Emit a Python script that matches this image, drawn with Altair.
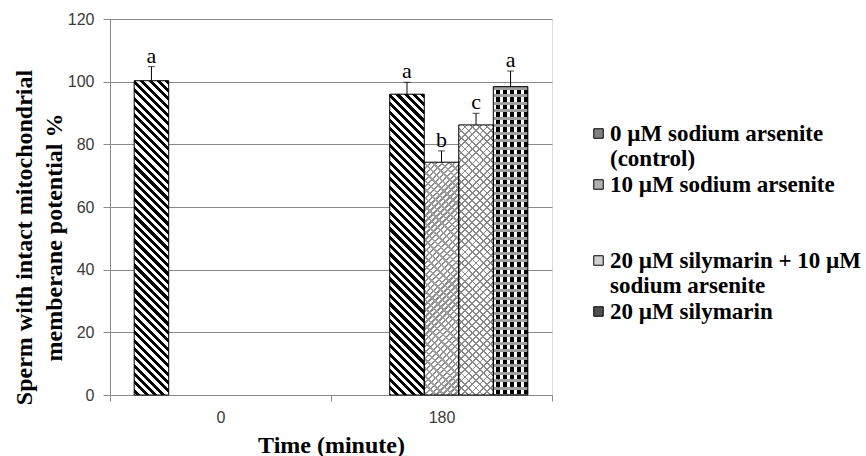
import math
import json
import altair as alt
import pandas as pd

# ---------------- data ----------------
times = ["0", "180"]
series = [
    "0 µM sodium arsenite (control)",
    "10 µM sodium arsenite",
    "20 µM silymarin + 10 µM sodium arsenite",
    "20 µM silymarin",
]
legend_lines = [
    ["0 µM sodium arsenite", "(control)"],
    ["10 µM sodium arsenite", "", ""],
    ["20 µM silymarin + 10 µM", "sodium arsenite"],
    ["20 µM silymarin"],
]
means_t0 = [100.3, None, None, None]
means_t180 = [96.0, 74.3, 86.2, 98.4]
sd_t0 = [4.5, None, None, None]
sd_t180 = [3.8, 3.6, 3.7, 5.0]
letters_t0 = ["a", None, None, None]
letters_t180 = ["a", "b", "c", "a"]

# Excel cluster had 5 slots per category: the time-0 bar occupies the first slot,
# the four 180-min bars the next four.
slots = ["s0", "s1", "s2", "s3", "s4"]

rows = []
bid = 0
for t, means, sds, lets, shift in [("0", means_t0, sd_t0, letters_t0, 0),
                                   ("180", means_t180, sd_t180, letters_t180, 1)]:
    for i, s in enumerate(series):
        if means[i] is None:
            continue
        rows.append(dict(id=bid, time=t, series=s, sidx=i, slot=slots[i + shift],
                         mean=means[i], top=means[i] + sds[i], letter=lets[i]))
        bid += 1
df = pd.DataFrame(rows)

# ---------------- layout / style ----------------
PLOT_W, PLOT_H = 442, 376
Y_MAX = 120
OFF_PAD = 0.7
BAR_W = PLOT_W / len(times) / (len(slots) + 2 * OFF_PAD)
GRID = "#8a8a8a"
swatch_colors = ["#808080", "#b0b0b0", "#cfcfcf", "#505050"]


def stripes(w, h, d, period, parts):
    """Linear gradient (bounding-box units) that draws straight stripes whose lines
    run along screen direction d, repeating every `period` px."""
    dx, dy = d
    ln = math.hypot(dx, dy)
    nx, ny = -dy / ln, dx / ln
    corners = [(0, 0), (w, 0), (0, h), (w, h)]
    proj = [nx * X + ny * Y for X, Y in corners]
    imin = min(range(4), key=lambda k: proj[k])
    L = max(proj) - min(proj)
    X1, Y1 = corners[imin]
    p1 = (X1 / w, Y1 / h)
    v = (nx * w / L, ny * h / L)
    vv = v[0] ** 2 + v[1] ** 2
    g = (v[0] / vv, v[1] / vv)
    p2 = (p1[0] + g[0], p1[1] + g[1])
    count = L / period
    stops = []
    k = 0
    while k < count:
        for a, b, col in parts:
            o1 = (k + a) / count
            if o1 >= 1:
                break
            o2 = min((k + b) / count, 1)
            stops.append({"offset": round(o1, 5), "color": col})
            stops.append({"offset": round(o2, 5), "color": col})
        k += 1
    return {"gradient": "linear", "x1": round(p1[0], 5), "y1": round(p1[1], 5),
            "x2": round(p2[0], 5), "y2": round(p2[1], 5), "stops": stops}


CLEAR = "rgba(255,255,255,0)"


def patterns_for(sidx, h):
    w = BAR_W
    if sidx == 0:   # diagonal black stripes
        return [stripes(w, h, (1, 1), 5.9, [(0, 0.5, "#000000"), (0.5, 1, "#ffffff")])]
    if sidx == 1:   # light zig-zag texture
        return [stripes(w, h, (1, -1), 4.2, [(0, 0.4, "#8e8e8e"), (0.4, 1, "#ffffff")]),
                stripes(w, h, (1, 1), 6.0, [(0, 0.3, "#a0a0a0"), (0.3, 1, CLEAR)])]
    if sidx == 2:   # light cross-hatch
        return [stripes(w, h, (1, -1), 5.2, [(0, 0.25, "#8a8a8a"), (0.25, 1, "#ffffff")]),
                stripes(w, h, (1, 1), 5.2, [(0, 0.25, "#8a8a8a"), (0.25, 1, CLEAR)])]
    # dark checker
    return [stripes(w, h, (0, 1), 7.0, [(0, 0.55, "#000000"), (0.55, 1, "#ffffff")]),
            stripes(w, h, (1, 0), 7.5, [(0, 0.4, "#a0a0a0"), (0.4, 1, CLEAR)])]


x_enc = alt.X(
    "time:N", sort=times,
    scale=alt.Scale(domain=times, paddingInner=0, paddingOuter=0),
    axis=alt.Axis(title="Time (minute)", labelAngle=0, tickBand="extent", grid=False,
                  domainColor=GRID, tickColor=GRID, tickSize=6, labelPadding=8,
                  labelFont="Liberation Sans", labelFontSize=16, labelColor="#3a3a3a",
                  titleFont="Liberation Serif", titleFontWeight="bold", titleFontSize=24,
                  titleColor="black", titlePadding=8),
)
xo_enc = alt.XOffset("slot:N", scale=alt.Scale(domain=slots, paddingInner=0, paddingOuter=OFF_PAD))
y_axis = alt.Axis(title=["Sperm with intact mitochondrial", "memberane potential %"],
                  values=[0, 20, 40, 60, 80, 100, 120], grid=True, gridColor=GRID,
                  domainColor=GRID, tickColor=GRID, tickSize=7, labelPadding=9,
                  labelFont="Liberation Sans", labelFontSize=16, labelColor="#3a3a3a",
                  titleFont="Liberation Serif", titleFontWeight="bold", titleFontSize=24,
                  titleColor="black", titleLineHeight=30, titleX=-74, titleY=218)
y_scale = alt.Scale(domain=[0, Y_MAX], nice=False)

label_expr = " : ".join(
    f"datum.label == {json.dumps(s, ensure_ascii=False)} ? {json.dumps(l, ensure_ascii=False)}"
    for s, l in zip(series, legend_lines)
) + " : datum.label"

base = alt.Chart().encode(x=x_enc, xOffset=xo_enc)

carrier = base.mark_bar(strokeWidth=0).encode(
    y=alt.Y("mean:Q", scale=y_scale, axis=y_axis),
    fill=alt.Fill("series:N", scale=alt.Scale(domain=series, range=swatch_colors),
                  legend=alt.Legend(title=None, orient="none", legendX=477, legendY=103,
                                    symbolType="square", symbolSize=90,
                                    symbolStrokeColor="black", symbolStrokeWidth=1,
                                    labelFont="Liberation Serif", labelFontWeight="bold",
                                    labelFontSize=23, labelColor="black", labelLimit=0,
                                    labelOffset=0, rowPadding=2, padding=0,
                                    labelExpr=label_expr)),
)

layers = [carrier]
for r in rows:
    h = r["mean"] / Y_MAX * PLOT_H
    for grad in patterns_for(r["sidx"], h):
        layers.append(
            base.mark_bar(fill=grad, strokeWidth=0)
            .encode(y=alt.Y("mean:Q", scale=y_scale, axis=y_axis))
            .transform_filter(alt.datum.id == r["id"])
        )

outline = base.mark_bar(fillOpacity=0, stroke="black", strokeWidth=1).encode(
    y=alt.Y("mean:Q", scale=y_scale, axis=y_axis))
err = base.mark_rule(color="black", strokeWidth=1).encode(
    y=alt.Y("mean:Q", scale=y_scale, axis=y_axis), y2="top:Q")
cap = base.mark_tick(color="black", thickness=1, size=7).encode(
    y=alt.Y("top:Q", scale=y_scale, axis=y_axis))
letters = base.mark_text(font="Liberation Serif", fontSize=22, color="black",
                         baseline="alphabetic", dy=-4).encode(
    y=alt.Y("top:Q", scale=y_scale, axis=y_axis), text="letter:N")

chart = alt.layer(*layers, outline, err, cap, letters, data=df).properties(
    width=PLOT_W, height=PLOT_H,
    autosize=alt.AutoSizeParams(type="none"),
    padding={"left": 110, "top": 19, "right": 866 - 110 - PLOT_W, "bottom": 456 - 19 - PLOT_H},
).configure_view(strokeWidth=0).configure(background="white")

chart.save("out.html", embed_options={"renderer": "svg", "actions": False})
